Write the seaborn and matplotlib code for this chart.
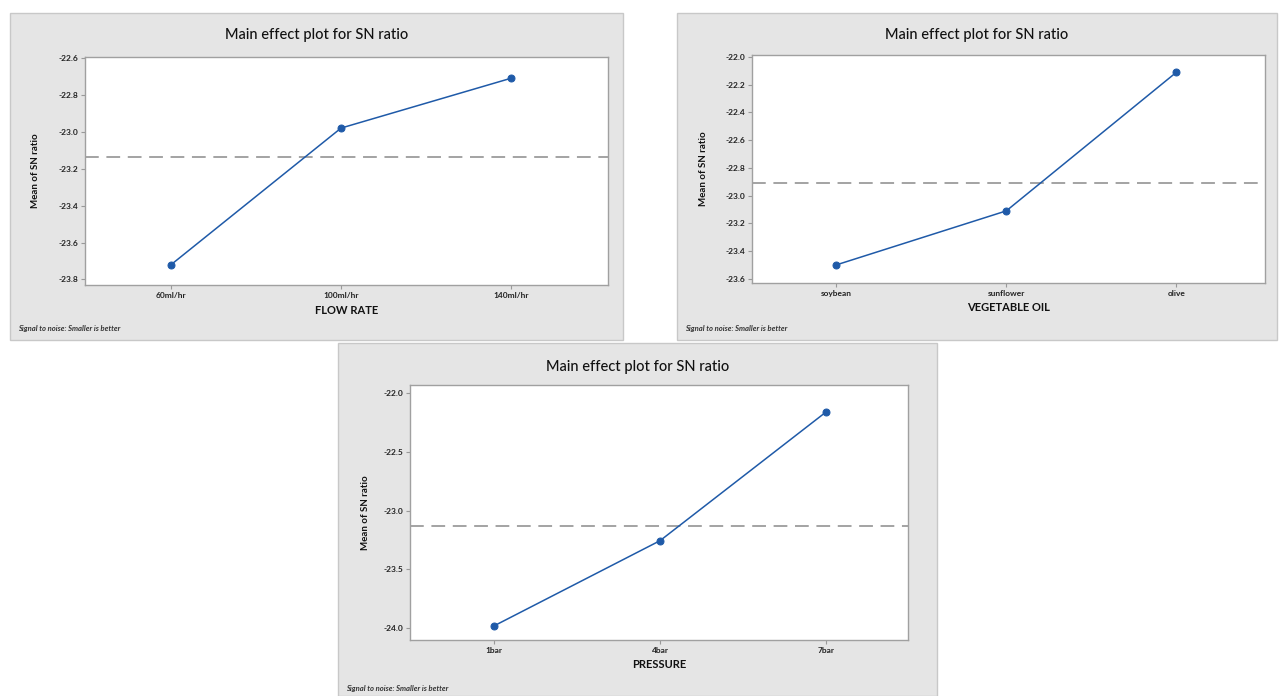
import numpy as np
import pandas as pd
import matplotlib
matplotlib.use("Agg")
import matplotlib.pyplot as plt
from matplotlib.patches import Rectangle
import seaborn as sns

# Factor levels and mean S/N ratio per level
flow_levels = ["60ml/hr", "100ml/hr", "140ml/hr"]
flow_sn = [-23.72, -22.98, -22.71]

oil_levels = ["soybean", "sunflower", "olive"]
oil_sn = [-23.50, -23.11, -22.11]

pressure_levels = ["1bar", "4bar", "7bar"]
pressure_sn = [-23.98, -23.255, -22.16]

flow_ticks = [-22.6, -22.8, -23.0, -23.2, -23.4, -23.6, -23.8]
oil_ticks = [-22.0, -22.2, -22.4, -22.6, -22.8, -23.0, -23.2, -23.4, -23.6]
pressure_ticks = [-22.0, -22.5, -23.0, -23.5, -24.0]

sns.set_theme(style="white")
plt.rcParams["font.family"] = ["Lato", "DejaVu Sans"]

W, H = 1279, 696
fig = plt.figure(figsize=(W / 100, H / 100), dpi=100)
fig.patch.set_facecolor("white")

LINE_BLUE = "#1f5aa8"
PANEL_BG = "#e5e5e5"


def fx(x):
    return x / W


def fy(y):
    return 1 - y / H


def panel(frame, box, levels, values, ticks, xlim, ylim, xlabel, title_y, note_y, ylab_x):
    x0, y0, x1, y1 = frame
    fig.patches.append(Rectangle((fx(x0), fy(y1)), fx(x1 - x0), (y1 - y0) / H,
                                 transform=fig.transFigure, facecolor=PANEL_BG,
                                 edgecolor="#c8c8c8", lw=1, zorder=-10))
    l, t, r, b = box
    ax = fig.add_axes([fx(l), fy(b), fx(r - l), (b - t) / H])
    ax.set_zorder(5)
    ax.set_facecolor("white")
    df = pd.DataFrame({"level": levels, "sn": values})
    df["pos"] = np.arange(len(levels))
    sns.lineplot(data=df, x="pos", y="sn", ax=ax, color=LINE_BLUE, lw=1.1,
                 marker="o", markersize=5, markeredgecolor=LINE_BLUE, sort=False)
    ax.axhline(np.mean(values), color="#8a8a8a", lw=1.1, ls=(0, (9, 5)), zorder=1)
    ax.set_xlim(*xlim)
    ax.set_ylim(*ylim)
    ax.set_xticks(df["pos"])
    ax.set_xticklabels(levels, fontsize=6, fontweight="bold", color="#222222")
    ax.set_yticks(ticks)
    ax.set_yticklabels([f"{v:.1f}" for v in ticks], fontsize=6, fontweight="bold",
                       color="#222222")
    ax.tick_params(axis="both", which="both", direction="out", length=3, width=0.8,
                   color="#999999", pad=2, left=True, bottom=True)
    for s in ax.spines.values():
        s.set_color("#a0a0a0")
        s.set_linewidth(1.0)
    ax.set_xlabel(xlabel, fontsize=8, fontweight="bold", color="#111111", labelpad=4)
    ax.set_ylabel("")
    fig.text(fx(ylab_x), fy((t + b) / 2), "Mean of SN ratio", rotation=90,
             fontsize=7, fontweight="bold", color="#111111", ha="center", va="center")
    fig.text(fx((x0 + x1) / 2), fy(title_y), "Main effect plot for SN ratio",
             fontsize=10.5, fontweight="medium", color="#111111", ha="center", va="center")
    fig.text(fx(x0 + 8), fy(note_y), "Signal to noise: Smaller is better",
             fontsize=5.5, style="italic", fontweight="bold", color="#333333",
             ha="left", va="center")
    return ax


panel((10, 13, 623, 340), (85, 57, 608, 285), flow_levels, flow_sn, flow_ticks,
      (-0.506, 2.57), (-23.83, -22.595), "FLOW RATE", 35, 328, 36)
panel((677, 13, 1277, 340), (752, 55, 1265, 283), oil_levels, oil_sn, oil_ticks,
      (-0.494, 2.52), (-23.63, -21.986), "VEGETABLE OIL", 35, 328, 703)
panel((338, 343, 937, 696), (410, 385, 908, 640), pressure_levels, pressure_sn,
      pressure_ticks, (-0.506, 2.494), (-24.10, -21.93), "PRESSURE", 367, 688, 366)

fig.savefig("out.png", dpi=100)
